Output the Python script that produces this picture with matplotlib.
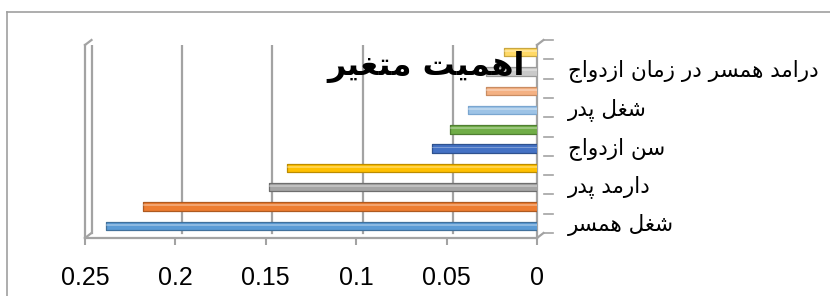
import matplotlib
matplotlib.use('Agg')
import matplotlib.pyplot as plt
from matplotlib.lines import Line2D
from matplotlib.transforms import ScaledTranslation

# data, bottom bar first
categories = ['شغل همسر', '', 'دارمد پدر', '', 'سن ازدواج', '',
              'شغل پدر', '', 'درامد همسر در زمان ازدواج', '']
values = [0.24, 0.22, 0.15, 0.14, 0.06, 0.05, 0.04, 0.03, 0.03, 0.02]
bar_colors = ['#5B9BD5', '#ED7D31', '#A5A5A5', '#FFC000', '#4472C4',
              '#70AD47', '#9DC3E6', '#F4B183', '#C9C9C9', '#FFD966']
edge_colors = ['#41719C', '#AE5A21', '#6E6E6E', '#BC8C00', '#2F528F',
               '#507E32', '#7AA6D0', '#C98C62', '#9A9A9A', '#C9A740']
x_ticks = [0.25, 0.2, 0.15, 0.1, 0.05, 0]
title = 'اهمیت متغیر'

# matplotlib has no arabic shaping, so pick the joined glyph forms by hand
FORMS = {
    'ا': ('\uFE8D', '\uFE8E'),
    'د': ('\uFEA9', '\uFEAA'),
    'ر': ('\uFEAD', '\uFEAE'),
    'ز': ('\uFEAF', '\uFEB0'),
    'و': ('\uFEED', '\uFEEE'),
    'ت': ('\uFE95', '\uFE96', '\uFE97', '\uFE98'),
    'ج': ('\uFE9D', '\uFE9E', '\uFE9F', '\uFEA0'),
    'س': ('\uFEB1', '\uFEB2', '\uFEB3', '\uFEB4'),
    'ش': ('\uFEB5', '\uFEB6', '\uFEB7', '\uFEB8'),
    'غ': ('\uFECD', '\uFECE', '\uFECF', '\uFED0'),
    'ل': ('\uFEDD', '\uFEDE', '\uFEDF', '\uFEE0'),
    'م': ('\uFEE1', '\uFEE2', '\uFEE3', '\uFEE4'),
    'ن': ('\uFEE5', '\uFEE6', '\uFEE7', '\uFEE8'),
    'ه': ('\uFEE9', '\uFEEA', '\uFEEB', '\uFEEC'),
    'پ': ('\uFB56', '\uFB57', '\uFB58', '\uFB59'),
    'ی': ('\uFBFC', '\uFBFD', '\uFBFE', '\uFBFF'),
}


def shape(s):
    out = []
    for i, ch in enumerate(s):
        f = FORMS.get(ch)
        if f is None:
            out.append(ch)
            continue
        prev = s[i - 1] if i > 0 else ''
        nxt = s[i + 1] if i + 1 < len(s) else ''
        join_prev = prev in FORMS and len(FORMS[prev]) == 4
        join_next = len(f) == 4 and nxt in FORMS
        if join_prev and join_next:
            out.append(f[3])
        elif join_prev:
            out.append(f[1])
        elif join_next:
            out.append(f[2])
        else:
            out.append(f[0])
    return ''.join(reversed(out))


W, H = 830, 296
fig = plt.figure(figsize=(W / 100, H / 100), dpi=100)
fig.patch.set_facecolor('white')

# axes = front plane of the 3d box
ax = fig.add_axes([85 / W, (H - 238) / H, 452 / W, 193 / H])
ax.set_xlim(0.25, 0)
ax.set_ylim(-0.5, 9.5)
for s in ax.spines.values():
    s.set_visible(False)
ax.set_facecolor('none')

grid_c = '#a3a3a3'


def shifted(tr, dx, dy):
    return tr + ScaledTranslation(dx / 100, dy / 100, fig.dpi_scale_trans)


xt = ax.get_xaxis_transform()
yt = ax.get_yaxis_transform()
back_x = shifted(xt, 6.5, 5)

# back wall gridlines
for v in x_ticks:
    ax.plot([v, v], [0, 1], color=grid_c, lw=1.6, transform=back_x, zorder=1)
# front edges of side walls + floor
for v in [0.25, 0]:
    ax.plot([v, v], [0, 1], color=grid_c, lw=1.6, transform=xt, zorder=1,
            clip_on=False)
ax.plot([0.25, 0], [0, 0], color=grid_c, lw=1.6, transform=xt, zorder=1,
        clip_on=False)


def corner(x, y):
    p = xt.transform((x, y))
    q = back_x.transform((x, y))
    fig.add_artist(Line2D([p[0], q[0]], [p[1], q[1]], color=grid_c, lw=1.6,
                          transform=None))


for v in [0.25, 0]:
    corner(v, 0)
    corner(v, 1)

# category ticks on the back right edge
back_y = shifted(yt, 6.5, 5)
for b in range(11):
    p = back_y.transform((1, b - 0.5))
    fig.add_artist(Line2D([p[0], p[0] + 9], [p[1], p[1]], color=grid_c,
                          lw=1.2, transform=None))

# bars, drawn at mid depth, with a light stripe for the rounded look
mid = ScaledTranslation(3.3 / 100, 2.5 / 100, fig.dpi_scale_trans)
bars = ax.barh(range(len(values)), values, height=0.44, color=bar_colors,
               edgecolor=edge_colors, linewidth=0.9, zorder=3)
shine = ax.barh([i + 0.06 for i in range(len(values))], values, height=0.1,
                color='white', alpha=0.3, linewidth=0, zorder=4)
for b in list(bars) + list(shine):
    b.set_transform(ax.transData + mid)
    b.set_joinstyle('round')

ax.set_xticks(x_ticks)
ax.set_xticklabels(['{:g}'.format(v) for v in x_ticks])
ax.tick_params(axis='x', direction='out', length=5, width=1.5, colors=grid_c,
               labelcolor='black', labelsize=18, pad=15)
for lab in ax.get_xticklabels():
    lab.set_fontfamily('Liberation Sans')

# category labels to the right of the box
ax.set_yticks([])
lab_tr = shifted(yt, 31, 3)
for i, c in enumerate(categories):
    if c:
        ax.text(1, i, shape(c), transform=lab_tr, fontsize=15.5,
                fontfamily='DejaVu Sans', ha='left', va='center')

fig.text(426 / W, 1 - 67 / H, shape(title), fontsize=23, fontweight='bold',
         fontfamily='DejaVu Sans', ha='center', va='center', zorder=10)

# chart area border (only top and left show)
fig.add_artist(Line2D([7 / W, 1], [1 - 12 / H, 1 - 12 / H], color='#a0a0a0',
                      lw=1.2, transform=fig.transFigure))
fig.add_artist(Line2D([7 / W, 7 / W], [0, 1 - 12 / H], color='#a0a0a0',
                      lw=1.2, transform=fig.transFigure))

fig.savefig('out.png', dpi=100)
